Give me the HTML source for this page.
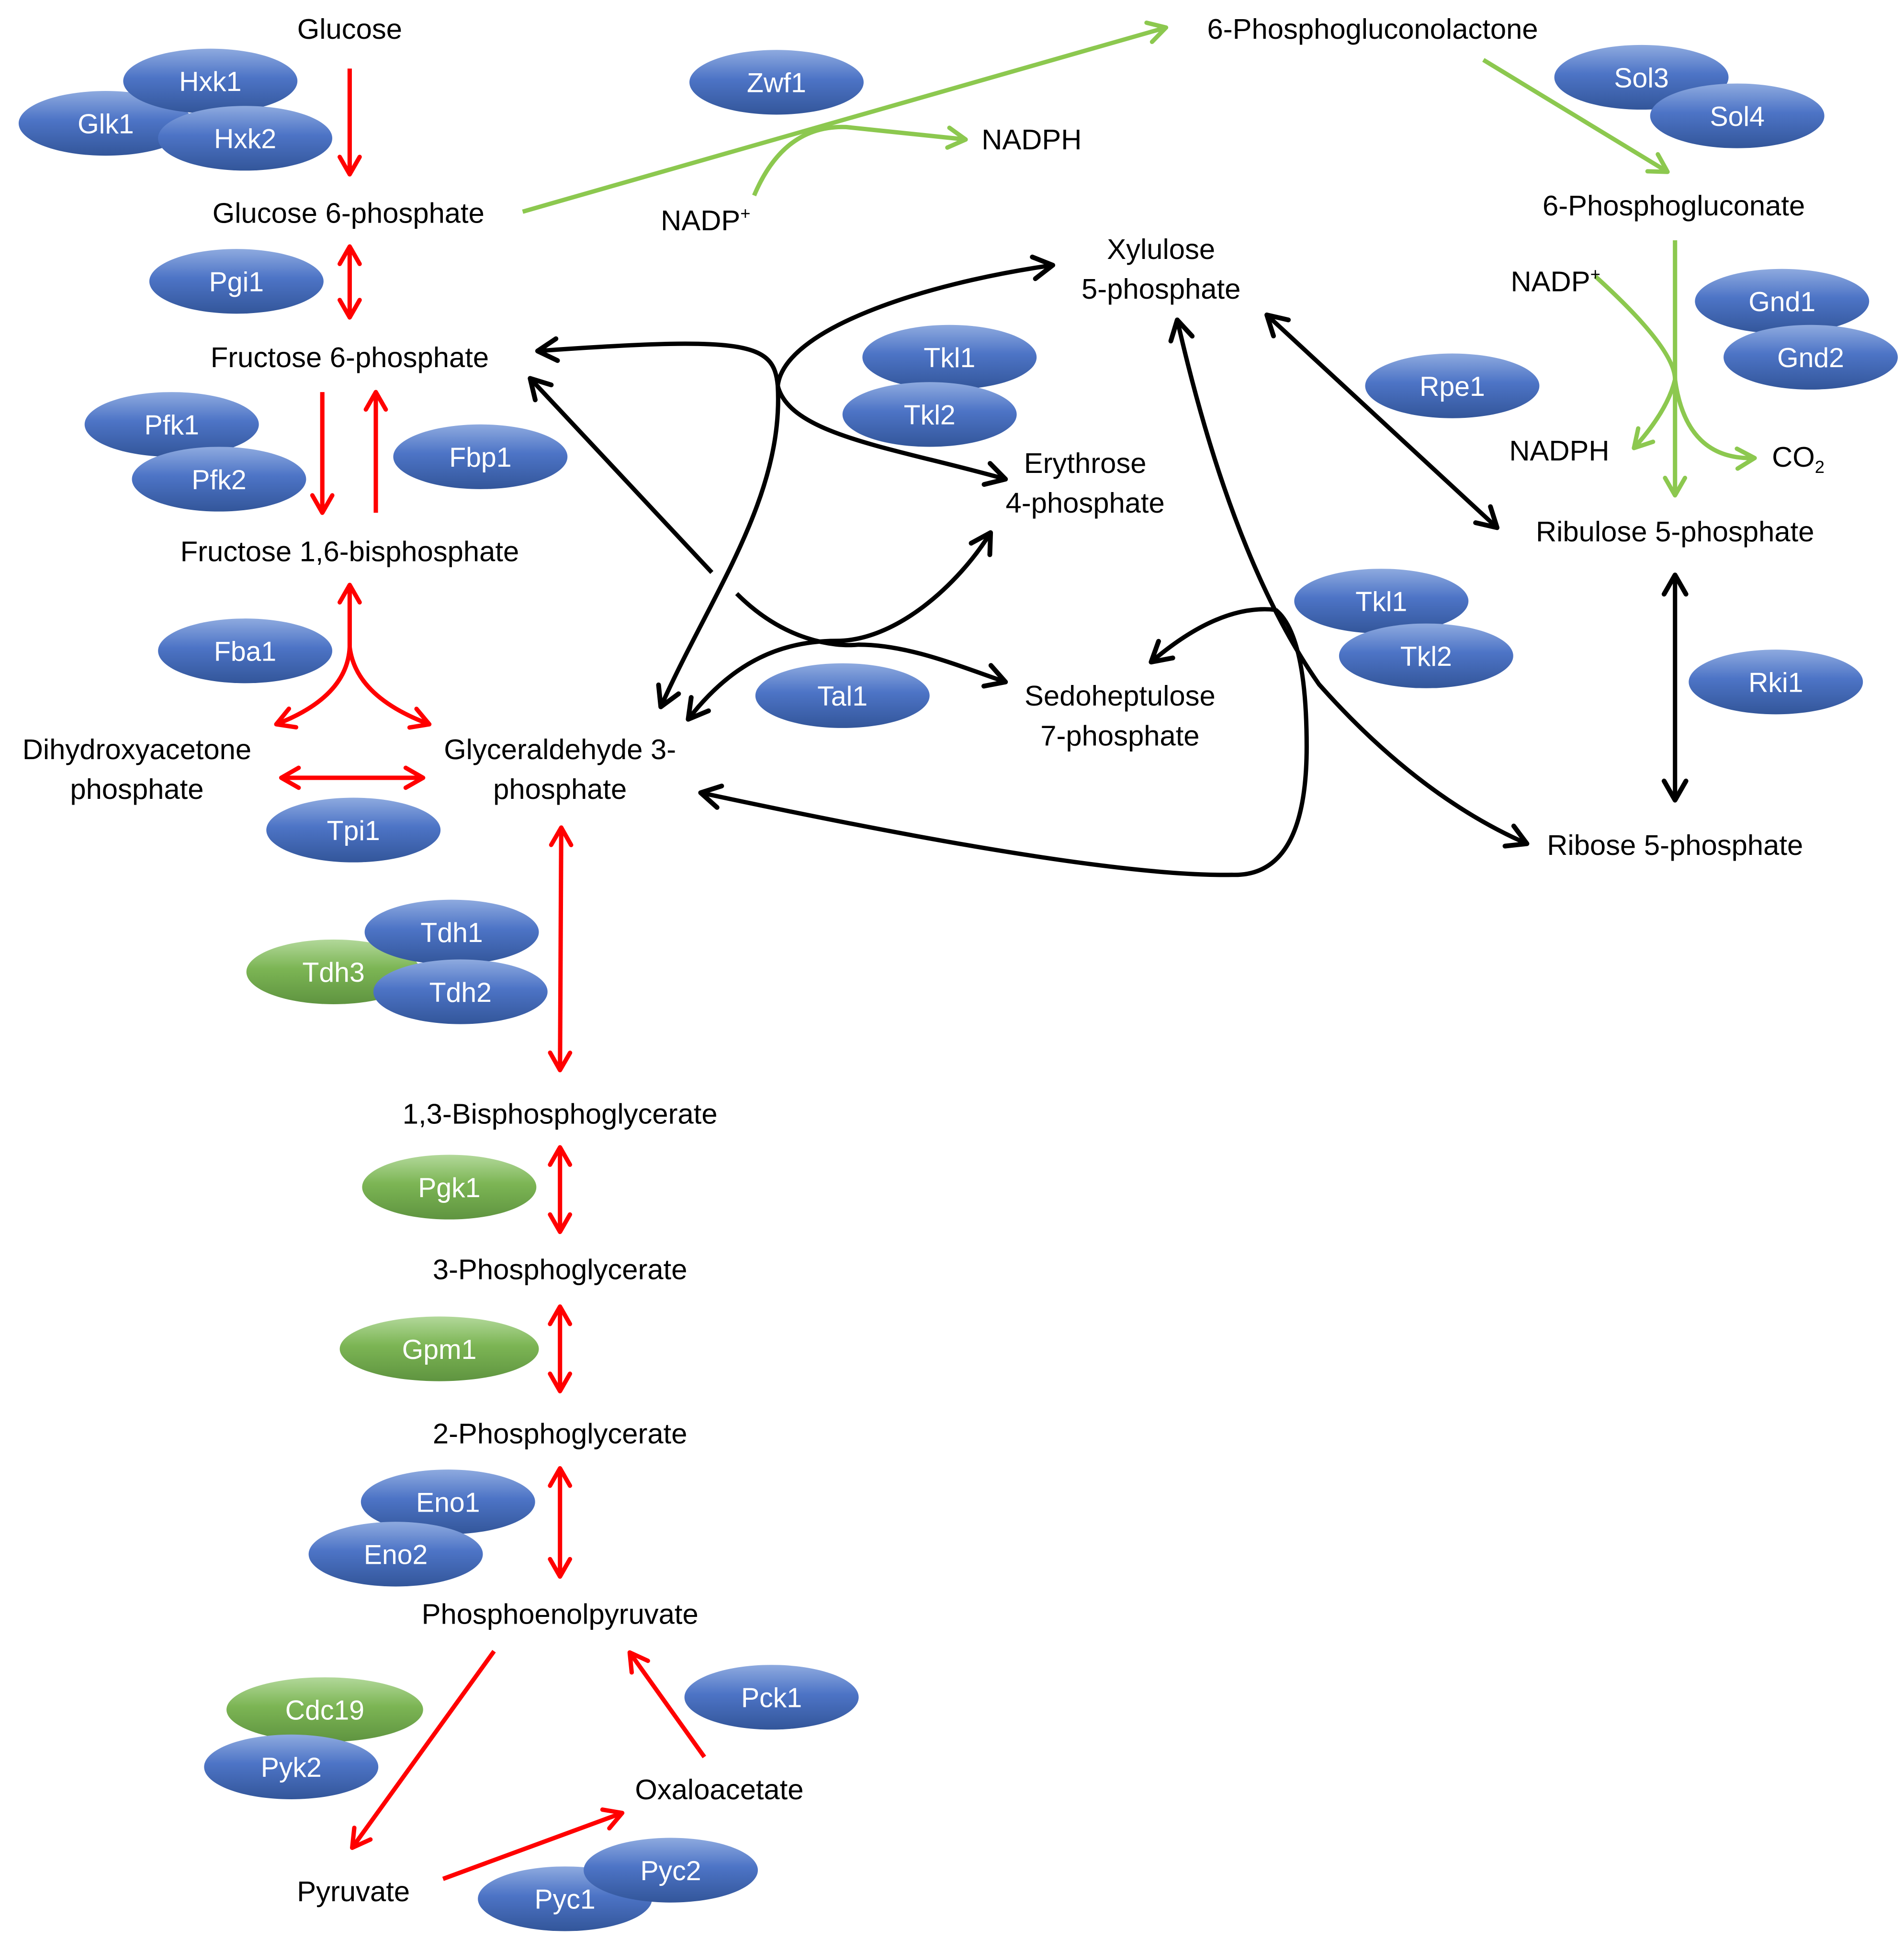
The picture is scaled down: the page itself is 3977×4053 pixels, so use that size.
<!DOCTYPE html>
<html><head><meta charset="utf-8"><style>
html,body{margin:0;padding:0;background:#fff;}
svg{display:block;}
text{font-family:"Liberation Sans",sans-serif;}
</style></head><body>
<svg width="3977" height="4053" viewBox="0 0 1530 1559" xmlns="http://www.w3.org/2000/svg">
<defs>
<linearGradient id="bl" x1="0" y1="0" x2="0" y2="1">
<stop offset="0" stop-color="#8eaadf"/><stop offset="0.45" stop-color="#4d74c6"/><stop offset="1" stop-color="#33569a"/></linearGradient>
<linearGradient id="gr" x1="0" y1="0" x2="0" y2="1">
<stop offset="0" stop-color="#b2d89a"/><stop offset="0.45" stop-color="#7cb554"/><stop offset="1" stop-color="#5f9440"/></linearGradient>
<marker id="mr" viewBox="0 0 20 20" refX="18" refY="10" markerWidth="20" markerHeight="20" markerUnits="userSpaceOnUse" orient="auto-start-reverse"><path d="M4,2 L18,10 L4,18" fill="none" stroke="#f00" stroke-width="3.5" stroke-linecap="round" stroke-linejoin="round"/></marker>
<marker id="mk" viewBox="0 0 20 20" refX="18" refY="10" markerWidth="22" markerHeight="22" markerUnits="userSpaceOnUse" orient="auto-start-reverse"><path d="M4,2 L18,10 L4,18" fill="none" stroke="#000" stroke-width="3.5" stroke-linecap="round" stroke-linejoin="round"/></marker>
<marker id="mg" viewBox="0 0 20 20" refX="18" refY="10" markerWidth="20" markerHeight="20" markerUnits="userSpaceOnUse" orient="auto-start-reverse"><path d="M4,2 L18,10 L4,18" fill="none" stroke="#8cc84f" stroke-width="3.5" stroke-linecap="round" stroke-linejoin="round"/></marker>
</defs>

<g stroke="#f00" stroke-width="3.5" fill="none">
<path d="M281,55 L281,140" marker-end="url(#mr)"/>
<path d="M281,198 L281,255" marker-start="url(#mr)" marker-end="url(#mr)"/>
<path d="M259,315 L259,412" marker-end="url(#mr)"/>
<path d="M302,412 L302,315" marker-end="url(#mr)"/>
<path d="M281,520 L281,470" marker-end="url(#mr)"/>
<path d="M281,520 Q279,560 222,582" marker-end="url(#mr)"/>
<path d="M281,520 Q286,560 345,582" marker-end="url(#mr)"/>
<path d="M226,625 L340,625" marker-start="url(#mr)" marker-end="url(#mr)"/>
<path d="M451,665 L450,860" marker-start="url(#mr)" marker-end="url(#mr)"/>
<path d="M450,922 L450,990" marker-start="url(#mr)" marker-end="url(#mr)"/>
<path d="M450,1050 L450,1118" marker-start="url(#mr)" marker-end="url(#mr)"/>
<path d="M450,1180 L450,1267" marker-start="url(#mr)" marker-end="url(#mr)"/>
<path d="M397,1327 L283,1485" marker-end="url(#mr)"/>
<path d="M566,1412 L506,1328" marker-end="url(#mr)"/>
<path d="M356,1510 L500,1457" marker-end="url(#mr)"/>
</g>

<g stroke="#8cc84f" stroke-width="3.5" fill="none">
<path d="M420,170 L937,22" marker-end="url(#mg)"/>
<path d="M606,157 Q630,100 680,102 L776,112" marker-end="url(#mg)"/>
<path d="M1192,48 L1340,138" marker-end="url(#mg)"/>
<path d="M1346,193 L1346,398" marker-end="url(#mg)"/>
<path d="M1282,222 Q1346,280 1346,305 Q1340,330 1313,360" marker-end="url(#mg)"/>
<path d="M1346,305 Q1355,370 1410,368" marker-end="url(#mg)"/>
</g>

<g stroke="#000" stroke-width="3.5" fill="none">
<path d="M1018,253 L1203,424" marker-start="url(#mk)" marker-end="url(#mk)"/>
<path d="M1346,462 L1346,643" marker-start="url(#mk)" marker-end="url(#mk)"/>
<path d="M946,257 Q990,450 1060,550 Q1140,640 1227,678" marker-start="url(#mk)" marker-end="url(#mk)"/>
<path d="M1025,490 Q980,485 925,532" marker-end="url(#mk)"/>
<path d="M1025,490 Q1050,510 1050,600 Q1050,705 990,703 Q880,705 563,637" marker-end="url(#mk)"/>
<path d="M625,310 C622,275 600,270 432,282" marker-end="url(#mk)"/>
<path d="M625,310 C630,265 740,228 846,213" marker-end="url(#mk)"/>
<path d="M625,310 C635,350 720,360 808,385" marker-end="url(#mk)"/>
<path d="M625,310 C630,400 570,480 531,568" marker-end="url(#mk)"/>
<path d="M572,460 L426,304" marker-end="url(#mk)"/>
<path d="M592,477 C630,515 670,520 690,518 C730,518 770,535 808,548" marker-end="url(#mk)"/>
<path d="M553,578 C590,530 630,515 672,515 C720,515 770,470 796,428" marker-start="url(#mk)" marker-end="url(#mk)"/>
</g>

<g font-size="22" fill="#fff" text-anchor="middle">
<ellipse cx="85" cy="99" rx="70" ry="26" fill="url(#bl)"/><text x="85" y="107">Glk1</text>
<ellipse cx="169" cy="65" rx="70" ry="26" fill="url(#bl)"/><text x="169" y="73">Hxk1</text>
<ellipse cx="197" cy="111" rx="70" ry="26" fill="url(#bl)"/><text x="197" y="119">Hxk2</text>
<ellipse cx="624" cy="66" rx="70" ry="26" fill="url(#bl)"/><text x="624" y="74">Zwf1</text>
<ellipse cx="1319" cy="62" rx="70" ry="26" fill="url(#bl)"/><text x="1319" y="70">Sol3</text>
<ellipse cx="1396" cy="93" rx="70" ry="26" fill="url(#bl)"/><text x="1396" y="101">Sol4</text>
<ellipse cx="190" cy="226" rx="70" ry="26" fill="url(#bl)"/><text x="190" y="234">Pgi1</text>
<ellipse cx="1432" cy="242" rx="70" ry="26" fill="url(#bl)"/><text x="1432" y="250">Gnd1</text>
<ellipse cx="1455" cy="287" rx="70" ry="26" fill="url(#bl)"/><text x="1455" y="295">Gnd2</text>
<ellipse cx="763" cy="287" rx="70" ry="26" fill="url(#bl)"/><text x="763" y="295">Tkl1</text>
<ellipse cx="747" cy="333" rx="70" ry="26" fill="url(#bl)"/><text x="747" y="341">Tkl2</text>
<ellipse cx="1167" cy="310" rx="70" ry="26" fill="url(#bl)"/><text x="1167" y="318">Rpe1</text>
<ellipse cx="138" cy="341" rx="70" ry="26" fill="url(#bl)"/><text x="138" y="349">Pfk1</text>
<ellipse cx="176" cy="385" rx="70" ry="26" fill="url(#bl)"/><text x="176" y="393">Pfk2</text>
<ellipse cx="386" cy="367" rx="70" ry="26" fill="url(#bl)"/><text x="386" y="375">Fbp1</text>
<ellipse cx="197" cy="523" rx="70" ry="26" fill="url(#bl)"/><text x="197" y="531">Fba1</text>
<ellipse cx="1110" cy="483" rx="70" ry="26" fill="url(#bl)"/><text x="1110" y="491">Tkl1</text>
<ellipse cx="1146" cy="527" rx="70" ry="26" fill="url(#bl)"/><text x="1146" y="535">Tkl2</text>
<ellipse cx="677" cy="559" rx="70" ry="26" fill="url(#bl)"/><text x="677" y="567">Tal1</text>
<ellipse cx="1427" cy="548" rx="70" ry="26" fill="url(#bl)"/><text x="1427" y="556">Rki1</text>
<ellipse cx="284" cy="667" rx="70" ry="26" fill="url(#bl)"/><text x="284" y="675">Tpi1</text>
<ellipse cx="268" cy="781" rx="70" ry="26" fill="url(#gr)"/><text x="268" y="789">Tdh3</text>
<ellipse cx="363" cy="749" rx="70" ry="26" fill="url(#bl)"/><text x="363" y="757">Tdh1</text>
<ellipse cx="370" cy="797" rx="70" ry="26" fill="url(#bl)"/><text x="370" y="805">Tdh2</text>
<ellipse cx="361" cy="954" rx="70" ry="26" fill="url(#gr)"/><text x="361" y="962">Pgk1</text>
<ellipse cx="353" cy="1084" rx="80" ry="26" fill="url(#gr)"/><text x="353" y="1092">Gpm1</text>
<ellipse cx="360" cy="1207" rx="70" ry="26" fill="url(#bl)"/><text x="360" y="1215">Eno1</text>
<ellipse cx="318" cy="1249" rx="70" ry="26" fill="url(#bl)"/><text x="318" y="1257">Eno2</text>
<ellipse cx="620" cy="1364" rx="70" ry="26" fill="url(#bl)"/><text x="620" y="1372">Pck1</text>
<ellipse cx="261" cy="1374" rx="79" ry="26" fill="url(#gr)"/><text x="261" y="1382">Cdc19</text>
<ellipse cx="234" cy="1420" rx="70" ry="26" fill="url(#bl)"/><text x="234" y="1428">Pyk2</text>
<ellipse cx="454" cy="1526" rx="70" ry="26" fill="url(#bl)"/><text x="454" y="1534">Pyc1</text>
<ellipse cx="539" cy="1503" rx="70" ry="26" fill="url(#bl)"/><text x="539" y="1511">Pyc2</text>
</g>

<g font-size="23" fill="#000" text-anchor="middle">
<text x="281" y="31">Glucose</text>
<text x="280" y="179">Glucose 6-phosphate</text>
<text x="281" y="295">Fructose 6-phosphate</text>
<text x="281" y="451">Fructose 1,6-bisphosphate</text>
<text x="110" y="610">Dihydroxyacetone</text>
<text x="110" y="642">phosphate</text>
<text x="450" y="610">Glyceraldehyde 3-</text>
<text x="450" y="642">phosphate</text>
<text x="450" y="903">1,3-Bisphosphoglycerate</text>
<text x="450" y="1028">3-Phosphoglycerate</text>
<text x="450" y="1160">2-Phosphoglycerate</text>
<text x="450" y="1305">Phosphoenolpyruvate</text>
<text x="578" y="1446">Oxaloacetate</text>
<text x="284" y="1528">Pyruvate</text>
<text x="1103" y="31">6-Phosphogluconolactone</text>
<text x="829" y="120">NADPH</text>
<text x="567" y="185">NADP<tspan font-size="14" dy="-9">+</tspan></text>
<text x="933" y="208">Xylulose</text>
<text x="933" y="240">5-phosphate</text>
<text x="872" y="380">Erythrose</text>
<text x="872" y="412">4-phosphate</text>
<text x="900" y="567">Sedoheptulose</text>
<text x="900" y="599">7-phosphate</text>
<text x="1345" y="173">6-Phosphogluconate</text>
<text x="1250" y="234">NADP<tspan font-size="14" dy="-9">+</tspan></text>
<text x="1253" y="370">NADPH</text>
<text x="1445" y="375">CO<tspan font-size="14" dy="5">2</tspan></text>
<text x="1346" y="435">Ribulose 5-phosphate</text>
<text x="1346" y="687">Ribose 5-phosphate</text>
</g>
</svg>
</body></html>
